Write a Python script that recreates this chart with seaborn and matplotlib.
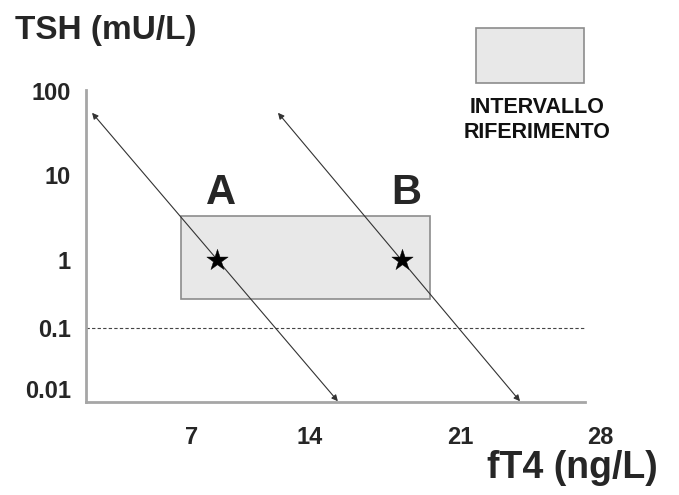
import numpy as np
import pandas as pd
import matplotlib
matplotlib.use("Agg")
import matplotlib.pyplot as plt
from matplotlib.patches import Rectangle
import seaborn as sns

# Valori (schema TSH / fT4)
ft4_ticks = [7, 14, 21, 28]
tsh_ticks = [0.01, 0.1, 1, 10, 100]
tsh_labels = ["0.01", "0.1", "1", "10", "100"]

pazienti = ["A", "B"]
ft4_paz = [8.5, 18.3]
tsh_paz = [1.0, 1.0]

# intervallo di riferimento
rif_ft4 = [6.3, 19.6]
rif_tsh = [0.27, 3.3]

soglia_tsh = 0.1

# rette TSH/fT4 (punto alto, punto basso)
retta_ft4 = [[0.4, 15.3], [12.1, 24.0]]
retta_tsh = [[55, 0.0063], [55, 0.0063]]

# assi schematici: le etichette non sono equidistanti nel disegno originale
x_val = [-7, 0, 7, 14, 21, 28, 35]
x_pos = [-106, 0, 106, 224, 374, 514, 654]
y_log = [-3, -2, -1, 0, 1, 2, 3]
y_pos = [-48, 13, 74, 142, 227, 311, 395]


def fx(v):
    return np.interp(v, x_val, x_pos)


def fx_inv(p):
    return np.interp(p, x_pos, x_val)


def fy(v):
    v = np.clip(np.asarray(v, dtype=float), 1e-9, None)
    return np.interp(np.log10(v), y_log, y_pos)


def fy_inv(p):
    return 10 ** np.interp(p, y_pos, y_log)


sns.set_style("white")
plt.rcParams["font.family"] = ["Liberation Sans", "DejaVu Sans"]

fig = plt.figure(figsize=(6.79, 4.95), dpi=100)
ax = fig.add_axes([86 / 679, 93 / 495, 514 / 679, 312 / 495])
ax.set_xscale("function", functions=(fx, fx_inv))
ax.set_yscale("function", functions=(fy, fy_inv))
ax.set_xlim(0, 28)
ax.set_ylim(fy_inv(0), fy_inv(312))
x_fine = float(fx_inv(499))

# intervallo di riferimento
ax.add_patch(Rectangle((rif_ft4[0], rif_tsh[0]), rif_ft4[1] - rif_ft4[0], rif_tsh[1] - rif_tsh[0],
                       facecolor="#e8e8e8", edgecolor="#8c8c8c", lw=1.2, zorder=1))

# soglia 0.1
ax.hlines(soglia_tsh, 0, x_fine, colors="#444444", linestyles=(0, (3, 2)), lw=0.8, zorder=2)

# rette con frecce
for xs, ys in zip(retta_ft4, retta_tsh):
    ax.annotate("", xy=(xs[1], ys[1]), xytext=(xs[0], ys[0]),
                arrowprops=dict(arrowstyle="<|-|>", color="#333333", lw=0.8,
                                mutation_scale=9, shrinkA=0, shrinkB=0), zorder=3)

df = pd.DataFrame({"paziente": pazienti, "fT4": ft4_paz, "TSH": tsh_paz})
sns.scatterplot(data=df, x="fT4", y="TSH", marker="*", s=260, color="black",
                edgecolor="black", linewidth=0.3, legend=False, zorder=4, ax=ax)

for nome, x in zip(pazienti, ft4_paz):
    ax.annotate(nome, xy=(x, rif_tsh[1]), xytext=(3, 2), textcoords="offset points",
                ha="center", va="bottom", fontsize=30, fontweight="bold")

ax.set_xlabel("")
ax.set_ylabel("")
ax.set_xticks(ft4_ticks, [str(t) for t in ft4_ticks])
ax.set_yticks(tsh_ticks, tsh_labels)
ax.minorticks_off()
ax.tick_params(axis="both", length=0, labelsize=17)
ax.tick_params(axis="x", pad=17)
ax.tick_params(axis="y", pad=11)
for lbl in ax.get_xticklabels() + ax.get_yticklabels():
    lbl.set_fontweight("bold")

for s in ["top", "right"]:
    ax.spines[s].set_visible(False)
for s in ["left", "bottom"]:
    ax.spines[s].set_color("#a6a6a6")
    ax.spines[s].set_linewidth(2)
ax.spines["bottom"].set_bounds(0, x_fine)

# titoli degli assi
fig.text(15 / 679, 1 - 31 / 495, "TSH (mU/L)", ha="left", va="center",
         fontsize=24, fontweight="bold")
fig.text(658 / 679, 1 - 468 / 495, "fT4 (ng/L)", ha="right", va="center",
         fontsize=27, fontweight="bold")

# legenda
fig.patches.append(Rectangle((476 / 679, 412 / 495), 108 / 679, 55 / 495,
                             transform=fig.transFigure, facecolor="#e8e8e8",
                             edgecolor="#8c8c8c", lw=1.2))
fig.text(537 / 679, 1 - 107 / 495, "INTERVALLO", ha="center", va="center",
         fontsize=15.5, fontweight="bold", color="#111111")
fig.text(537 / 679, 1 - 133 / 495, "RIFERIMENTO", ha="center", va="center",
         fontsize=15.5, fontweight="bold", color="#111111")

fig.savefig("out.png", dpi=100)
